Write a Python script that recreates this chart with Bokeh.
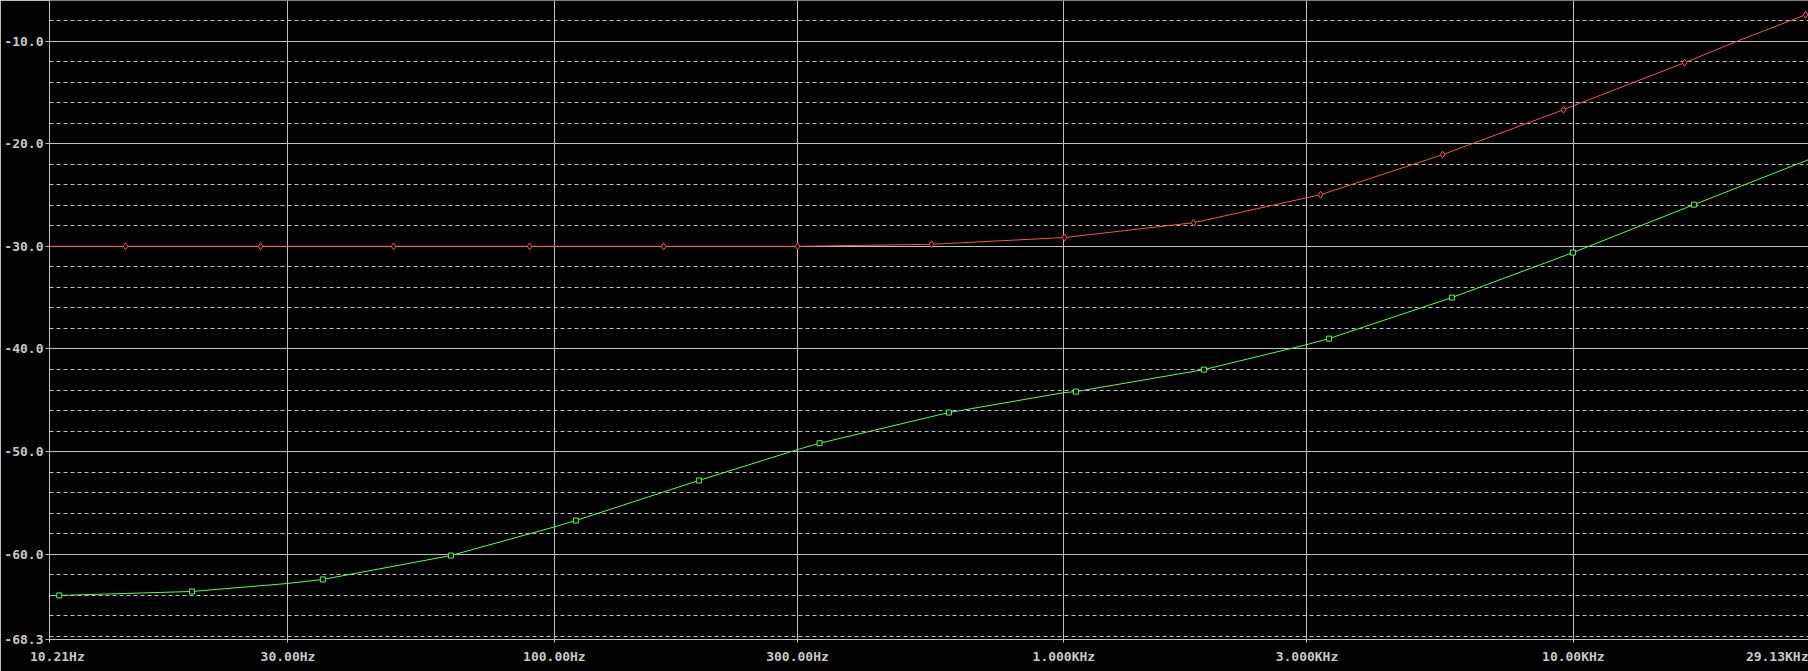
from bokeh.plotting import figure
from bokeh.models import FixedTicker, PrintfTickFormatter, Range1d
from bokeh.embed import file_html
from bokeh.resources import INLINE

# ---------------- axis definitions ----------------
x_start = 10.21
x_end = 28940.0
x_tick_values = [10.21, 30.0, 100.0, 300.0, 1000.0, 3000.0, 10000.0, 28900.0]
x_tick_labels = ["\u00a0\u00a010.21Hz", "30.00Hz", "100.00Hz", "300.00Hz", "1.000KHz", "3.000KHz",
                 "10.00KHz", "29.13KHz"]
x_grid_values = [30.0, 100.0, 300.0, 1000.0, 3000.0, 10000.0]

y_start = -68.3
y_end = -6.05
y_major = [-68.3, -60.0, -50.0, -40.0, -30.0, -20.0, -10.0]
y_minor = [-68, -66, -64, -62, -58, -56, -54, -52, -48, -46, -44, -42,
           -38, -36, -34, -32, -28, -26, -24, -22, -18, -16, -14, -12, -8]

# ---------------- trace 1 (red) ----------------
red_freq = [10.21, 14.4, 26.5, 48.35, 89.4, 163.8, 300.2, 550.0, 1003.0, 1797.0,
            3000.0, 3190.0, 5538.0, 9566.0, 10000.0, 16530.0, 21100.0, 28560.0, 29130.0]
red_db = [-30.0, -30.0, -30.0, -30.0, -30.0, -30.0, -30.0, -29.8, -29.14, -27.7,
          -25.26, -24.97, -21.07, -16.69, -16.3, -12.11, -9.96, -7.44, -7.27]
red_mark_freq = [14.4, 26.5, 48.35, 89.4, 163.8, 300.2, 550.0, 1003.0, 1797.0,
                 3190.0, 5538.0, 9566.0, 16530.0, 28560.0]
red_mark_db = [-30.0, -30.0, -30.0, -30.0, -30.0, -30.0, -29.8, -29.14, -27.7,
               -24.97, -21.07, -16.69, -12.11, -7.44]

# ---------------- trace 2 (green) ----------------
green_freq = [10.21, 10.67, 19.44, 30.0, 35.12, 62.65, 100.0, 110.2, 192.1, 300.0,
              331.5, 594.8, 1000.0, 1055.7, 1882.5, 3000.0, 3312.0, 5775.0, 9977.0,
              17240.0, 29130.0]
green_db = [-64.03, -64.01, -63.62, -62.84, -62.45, -60.12, -57.33, -56.71, -52.81, -49.8,
            -49.18, -46.19, -44.25, -44.15, -42.01, -39.57, -38.99, -34.99, -30.61,
            -25.94, -21.5]
green_mark_freq = [10.67, 19.44, 35.12, 62.65, 110.2, 192.1, 331.5, 594.8, 1055.7,
                   1882.5, 3312.0, 5775.0, 9977.0, 17240.0]
green_mark_db = [-64.01, -63.62, -62.45, -60.12, -56.71, -52.81, -49.18, -46.19, -44.15,
                 -42.01, -38.99, -34.99, -30.61, -25.94]

# ---------------- styles ----------------
BG = "#000000"
GRID = "#c0c0c0"
TEXT = "#c8c8c8"
RED = "#ff5050"
GREEN = "#55ff55"
FONT = "DejaVu Sans Mono"

p = figure(width=1808, height=671, x_axis_type="log",
           x_range=Range1d(x_start, x_end), y_range=Range1d(y_start, y_end),
           output_backend="svg", toolbar_location=None,
           background_fill_color=BG, border_fill_color=BG, outline_line_color=None,
           min_border_left=49, min_border_right=0, min_border_top=0, min_border_bottom=32)

# x axis / grid
p.xaxis.ticker = FixedTicker(ticks=x_tick_values)
p.xgrid.ticker = FixedTicker(ticks=x_grid_values)
p.xaxis.major_label_overrides = dict(zip(x_tick_values, x_tick_labels))
p.xgrid.grid_line_color = GRID
p.xgrid.grid_line_width = 1

# y axis / grid
yt = FixedTicker(ticks=y_major, minor_ticks=y_minor)
p.yaxis.ticker = yt
p.ygrid.ticker = yt
p.yaxis.formatter = PrintfTickFormatter(format="%.1f")
p.ygrid.grid_line_color = GRID
p.ygrid.minor_grid_line_color = GRID
p.ygrid.minor_grid_line_dash = "4 3"

for ax in (p.xaxis, p.yaxis):
    ax.axis_line_color = GRID
    ax.major_tick_line_color = GRID
    ax.minor_tick_line_color = None
    ax.major_tick_in = 0
    ax.major_label_text_color = TEXT
    ax.major_label_text_font = FONT
    ax.major_label_text_font_style = "bold"
    ax.major_label_text_font_size = "13px"

p.xaxis.major_tick_out = 3
p.xaxis.major_label_standoff = 6
p.yaxis.major_tick_out = 4
p.yaxis.major_label_standoff = 2

# traces
p.line(red_freq, red_db, line_color=RED, line_width=1)
p.scatter(red_mark_freq, red_mark_db, marker="diamond", size=7,
          line_color=RED, fill_color=BG, line_width=1)
p.line(green_freq, green_db, line_color=GREEN, line_width=1)
p.scatter(green_mark_freq, green_mark_db, marker="square", size=5,
          line_color=GREEN, fill_color=BG, line_width=1)

open("out.html", "w").write(file_html(p, INLINE))
